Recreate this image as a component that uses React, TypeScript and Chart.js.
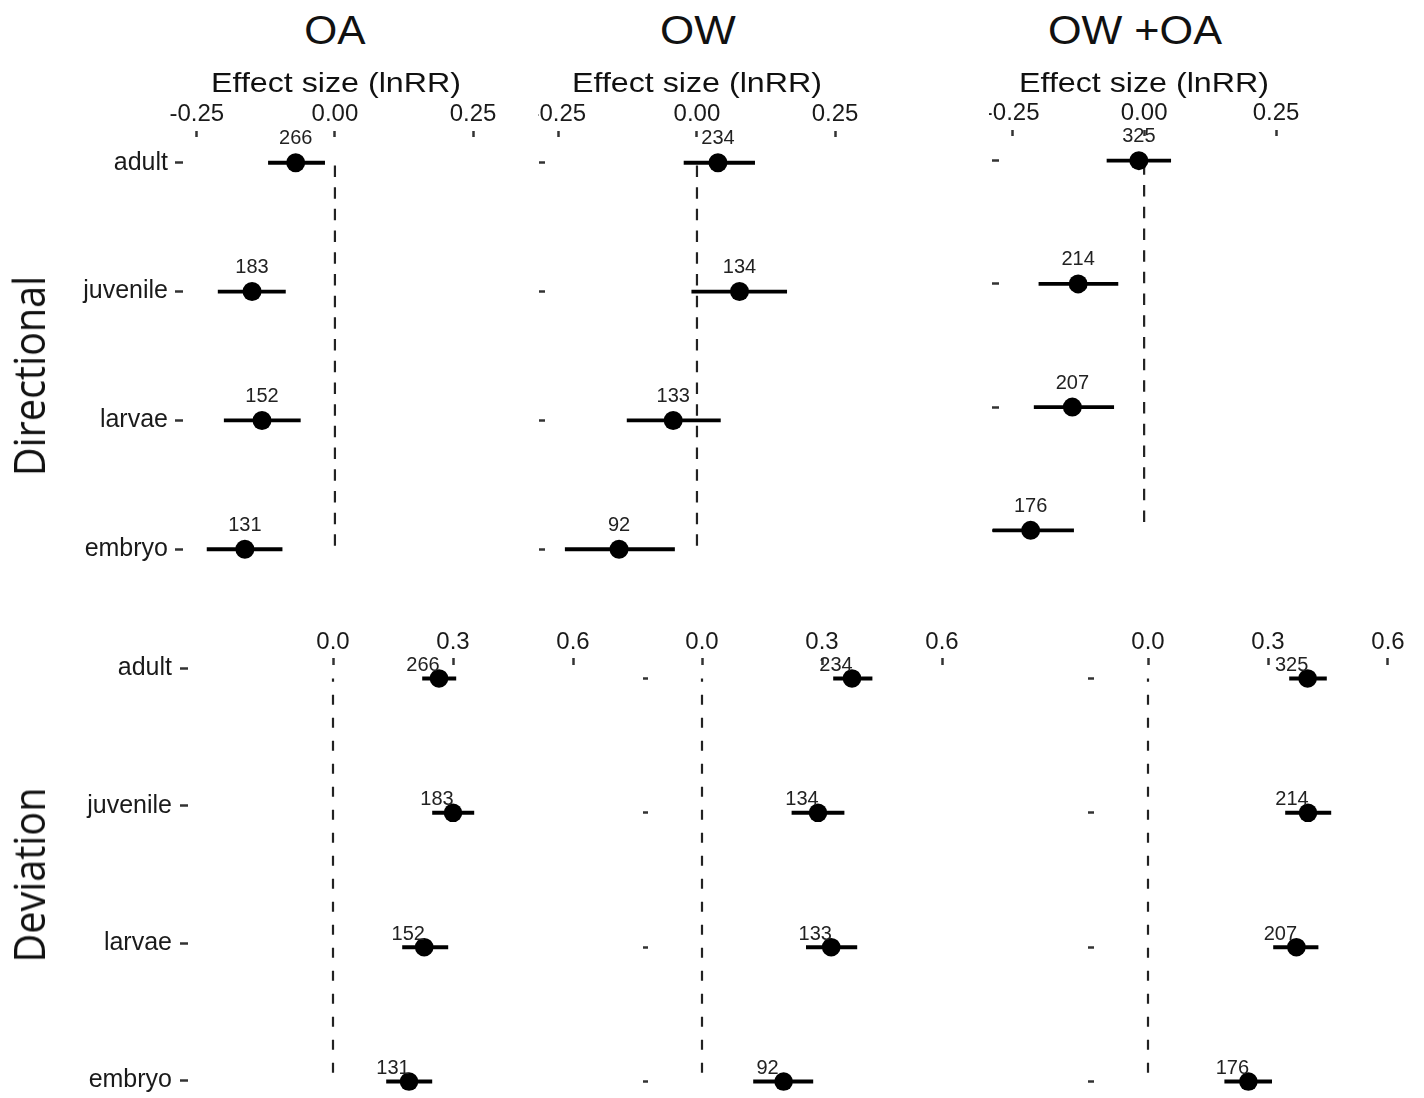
import React, { useEffect, useRef } from "react";
import { Chart, registerables } from "chart.js";

Chart.register(...registerables);

// ---------- data ----------
const STAGES = ["adult", "juvenile", "larvae", "embryo"];
const STAGE_TICKS = [1, 2, 3, 4];
const DIR_TICKS = [-0.25, 0, 0.25];
const DEV_TICKS = [0, 0.3, 0.6];

const OA_N = [266, 183, 152, 131];
const OW_N = [234, 134, 133, 92];
const OWOA_N = [325, 214, 207, 176];

// Directional effect sizes (lnRR)
const OA_DIR_MEAN = [-0.071, -0.15, -0.132, -0.163];
const OA_DIR_LO = [-0.121, -0.212, -0.201, -0.232];
const OA_DIR_HI = [-0.018, -0.089, -0.062, -0.095];

const OW_DIR_MEAN = [0.038, 0.077, -0.043, -0.141];
const OW_DIR_LO = [-0.024, -0.01, -0.127, -0.239];
const OW_DIR_HI = [0.105, 0.163, 0.043, -0.04];

const OWOA_DIR_MEAN = [-0.01, -0.125, -0.136, -0.215];
const OWOA_DIR_LO = [-0.071, -0.2, -0.209, -0.287];
const OWOA_DIR_HI = [0.051, -0.049, -0.057, -0.133];

// Deviation effect sizes
const OA_DEV_MEAN = [0.265, 0.3, 0.228, 0.19];
const OA_DEV_LO = [0.223, 0.248, 0.173, 0.133];
const OA_DEV_HI = [0.308, 0.353, 0.288, 0.248];

const OW_DEV_MEAN = [0.375, 0.29, 0.323, 0.204];
const OW_DEV_LO = [0.328, 0.224, 0.26, 0.128];
const OW_DEV_HI = [0.426, 0.356, 0.388, 0.278];

const OWOA_DEV_MEAN = [0.399, 0.4, 0.371, 0.251];
const OWOA_DEV_LO = [0.353, 0.343, 0.313, 0.191];
const OWOA_DEV_HI = [0.447, 0.458, 0.426, 0.31];

// ---------- styling / layout ----------
const FONT = '"Liberation Sans", Arial, Helvetica, sans-serif';
const ROW_FONT = '"Open Sans", "Liberation Sans", Arial, sans-serif';

type Panel = {
  key: string;
  mean: number[];
  lo: number[];
  hi: number[];
  n: number[];
  xMin: number;
  xMax: number;
  xTicks: number[];
  decimals: number;
  yMin: number;
  yMax: number;
  labelRange?: [number, number];
  showLabels: boolean;
  left: number;
  top: number;
  width: number;
  height: number;
  yAxisW: number;
  xAxisH: number;
  padR: number;
  padB: number;
  xTickLen: number;
  yTickLen: number;
  xTickPad: number;
  yTickPad: number;
  dash: number[];
  dashOffset: number;
  nDx: number;
  nDy: number;
  ciWidth: number;
  r: number;
};

const TOP_COMMON = {
  xMin: -0.275,
  xTicks: DIR_TICKS,
  decimals: 2,
  yMin: 0.8,
  yMax: 4.2,
  xAxisH: 40,
  padB: 5,
  xTickLen: 6,
  xTickPad: 2,
  yTickPad: 7,
  dash: [11.5, 10.2],
  dashOffset: 19,
  nDx: 0,
  nDy: -24,
  ciWidth: 3.8,
  r: 9.5,
};

const BOTTOM_COMMON = {
  xTicks: DEV_TICKS,
  decimals: 1,
  yMin: 0.9,
  yMax: 4.1,
  xAxisH: 40,
  top: 625,
  height: 473,
  padB: 3,
  xTickLen: 7,
  xTickPad: 1,
  yTickPad: 8,
  dash: [10, 13],
  dashOffset: 6.7,
  nDx: -16,
  nDy: -13,
  ciWidth: 4,
  r: 9.3,
};

const PANELS: Panel[] = [
  {
    ...TOP_COMMON,
    key: "oa-dir",
    mean: OA_DIR_MEAN,
    lo: OA_DIR_LO,
    hi: OA_DIR_HI,
    n: OA_N,
    xMax: 0.335,
    showLabels: true,
    left: 0,
    top: 97,
    width: 538,
    height: 483,
    yAxisW: 183,
    padR: 18,
    yTickLen: 8,
  },
  {
    ...TOP_COMMON,
    key: "ow-dir",
    mean: OW_DIR_MEAN,
    lo: OW_DIR_LO,
    hi: OW_DIR_HI,
    n: OW_N,
    xMax: 0.476,
    showLabels: false,
    left: 538,
    top: 97,
    width: 451,
    height: 483,
    yAxisW: 7,
    padR: 29,
    yTickLen: 6,
  },
  {
    ...TOP_COMMON,
    key: "owoa-dir",
    mean: OWOA_DIR_MEAN,
    lo: OWOA_DIR_LO,
    hi: OWOA_DIR_HI,
    n: OWOA_N,
    xMax: 0.5,
    showLabels: false,
    left: 989,
    top: 96,
    width: 435,
    height: 464,
    yAxisW: 10,
    padR: 16,
    yTickLen: 7,
  },
  {
    ...BOTTOM_COMMON,
    key: "oa-dev",
    mean: OA_DEV_MEAN,
    lo: OA_DEV_LO,
    hi: OA_DEV_HI,
    n: OA_N,
    xMin: -0.3625,
    xMax: 0.65,
    labelRange: [0.975, 4.105],
    showLabels: true,
    left: 0,
    width: 620,
    yAxisW: 188,
    padR: 27,
    yTickLen: 8,
  },
  {
    ...BOTTOM_COMMON,
    key: "ow-dev",
    mean: OW_DEV_MEAN,
    lo: OW_DEV_LO,
    hi: OW_DEV_HI,
    n: OW_N,
    xMin: -0.135,
    xMax: 0.645,
    showLabels: false,
    left: 620,
    width: 440,
    yAxisW: 28,
    padR: 100,
    yTickLen: 5,
  },
  {
    ...BOTTOM_COMMON,
    key: "owoa-dev",
    mean: OWOA_DEV_MEAN,
    lo: OWOA_DEV_LO,
    hi: OWOA_DEV_HI,
    n: OWOA_N,
    xMin: -0.135,
    xMax: 0.65,
    showLabels: false,
    left: 1060,
    width: 364,
    yAxisW: 34,
    padR: 16,
    yTickLen: 6,
  },
];

const nLabelPlugin = {
  id: "nLabels",
  afterDatasetsDraw(chart: any, _args: any, opts: any) {
    const { ctx, scales } = chart;
    if (!opts || !opts.mean) return;
    ctx.save();
    ctx.font = `20px ${FONT}`;
    ctx.fillStyle = "#222";
    ctx.textAlign = "center";
    ctx.textBaseline = "middle";
    opts.mean.forEach((m: number, i: number) => {
      const px = scales.x.getPixelForValue(m) + opts.dx;
      const py = scales.y.getPixelForValue(i + 1) + opts.dy;
      ctx.fillText(String(opts.n[i]), px, py);
    });
    ctx.restore();
  },
};

function zeroPad(s: any) {
  s.paddingLeft = 0;
  s.paddingRight = 0;
  s.paddingTop = 0;
  s.paddingBottom = 0;
}

function tickGrid(len: number) {
  return {
    display: true,
    drawOnChartArea: false,
    drawTicks: true,
    tickLength: len,
    tickWidth: 2.5,
    tickColor: "#333",
  };
}

function PanelChart({ p }: { p: Panel }) {
  const ref = useRef<HTMLCanvasElement | null>(null);

  useEffect(() => {
    const canvas = ref.current;
    if (!canvas) return;

    const datasets: any[] = [];
    datasets.push({
      data: [
        { x: 0, y: 1 },
        { x: 0, y: STAGES.length },
      ],
      showLine: true,
      borderColor: "#222",
      borderWidth: 2.2,
      borderDash: p.dash,
      borderDashOffset: p.dashOffset,
      pointRadius: 0,
      order: 3,
      clip: false,
    });
    p.mean.forEach((_, i) => {
      datasets.push({
        data: [
          { x: p.lo[i], y: i + 1 },
          { x: p.hi[i], y: i + 1 },
        ],
        showLine: true,
        borderColor: "#000",
        borderWidth: p.ciWidth,
        pointRadius: 0,
        order: 2,
        clip: false,
      });
    });
    datasets.push({
      data: p.mean.map((m, i) => ({ x: m, y: i + 1 })),
      showLine: false,
      pointRadius: p.r,
      pointBackgroundColor: "#000",
      pointBorderColor: "#000",
      pointBorderWidth: 0,
      order: 1,
      clip: false,
    });

    const labelFont = { family: FONT, size: 25, lineHeight: 1.2 };
    const stageLabel = (v: any) => (p.showLabels ? STAGES[Number(v) - 1] ?? "" : "");
    const setStageTicks = (s: any) => {
      s.ticks = STAGE_TICKS.map((v) => ({ value: v }));
    };

    const scales: any = {
      x: {
        type: "linear",
        position: "top",
        min: p.xMin,
        max: p.xMax,
        afterBuildTicks: (s: any) => {
          s.ticks = p.xTicks.map((v) => ({ value: v }));
        },
        afterFit: (s: any) => {
          s.height = p.xAxisH;
          zeroPad(s);
        },
        ticks: {
          autoSkip: false,
          maxRotation: 0,
          minRotation: 0,
          padding: p.xTickPad,
          color: "#1a1a1a",
          font: { family: FONT, size: 24, lineHeight: 1.2 },
          callback: (v: any) => Number(v).toFixed(p.decimals),
        },
        grid: tickGrid(p.xTickLen),
        border: { display: false },
      },
      y: {
        type: "linear",
        position: "left",
        reverse: true,
        min: p.yMin,
        max: p.yMax,
        display: !p.labelRange,
        afterBuildTicks: setStageTicks,
        afterFit: (s: any) => {
          if (!p.labelRange) s.width = p.yAxisW;
          zeroPad(s);
        },
        ticks: {
          autoSkip: false,
          padding: p.yTickPad,
          color: "#1a1a1a",
          font: labelFont,
          callback: stageLabel,
        },
        grid: tickGrid(p.yTickLen),
        border: { display: false },
      },
    };

    if (p.labelRange) {
      scales.yLab = {
        type: "linear",
        position: "left",
        reverse: true,
        min: p.labelRange[0],
        max: p.labelRange[1],
        afterBuildTicks: setStageTicks,
        afterFit: (s: any) => {
          s.width = p.yAxisW;
          zeroPad(s);
        },
        ticks: {
          autoSkip: false,
          padding: p.yTickPad,
          color: "#1a1a1a",
          font: labelFont,
          callback: stageLabel,
        },
        grid: tickGrid(p.yTickLen),
        border: { display: false },
      };
    }

    const chart = new Chart(canvas, {
      type: "scatter",
      data: { datasets },
      options: {
        animation: false,
        responsive: false,
        maintainAspectRatio: false,
        events: [],
        layout: {
          autoPadding: false,
          padding: { left: 0, top: 0, right: p.padR, bottom: p.padB },
        },
        plugins: {
          legend: { display: false },
          tooltip: { enabled: false },
          title: { display: false },
          nLabels: { mean: p.mean, n: p.n, dx: p.nDx, dy: p.nDy },
        } as any,
        scales,
      } as any,
      plugins: [nLabelPlugin as any],
    });

    return () => {
      chart.destroy();
    };
  }, [p]);

  return (
    <canvas
      ref={ref}
      width={p.width}
      height={p.height}
      style={{
        position: "absolute",
        left: p.left,
        top: p.top,
        width: p.width,
        height: p.height,
      }}
    />
  );
}

function Label({
  x,
  y,
  size,
  text,
  family = FONT,
  sx = 1,
  vertical = false,
}: {
  x: number;
  y: number;
  size: number;
  text: string;
  family?: string;
  sx?: number;
  vertical?: boolean;
}) {
  const transform = vertical
    ? `translate(-50%, -50%) rotate(-90deg) scaleX(${sx})`
    : `translate(-50%, -50%) scaleX(${sx})`;
  return (
    <div
      style={{
        position: "absolute",
        left: x,
        top: y,
        fontFamily: family,
        fontSize: size,
        lineHeight: `${size}px`,
        whiteSpace: "nowrap",
        color: "#111",
        transform,
      }}
    >
      {text}
    </div>
  );
}

export default function App() {
  return (
    <div
      style={{
        position: "absolute",
        left: 0,
        top: 0,
        width: 1424,
        height: 1098,
        background: "#fff",
        overflow: "hidden",
      }}
    >
      {PANELS.map((p) => (
        <PanelChart key={p.key} p={p} />
      ))}
      <Label x={335} y={30} size={40} sx={1.06} text="OA" />
      <Label x={698} y={30} size={40} sx={1.1} text="OW" />
      <Label x={1135} y={30} size={40} sx={1.08} text="OW +OA" />
      <Label x={336} y={83} size={28} sx={1.15} text="Effect size (lnRR)" />
      <Label x={697} y={83} size={28} sx={1.15} text="Effect size (lnRR)" />
      <Label x={1144} y={83} size={28} sx={1.15} text="Effect size (lnRR)" />
      <Label x={28} y={376} size={44} sx={0.9} vertical family={ROW_FONT} text="Directional" />
      <Label x={28} y={875} size={44} sx={0.9} vertical family={ROW_FONT} text="Deviation" />
    </div>
  );
}
